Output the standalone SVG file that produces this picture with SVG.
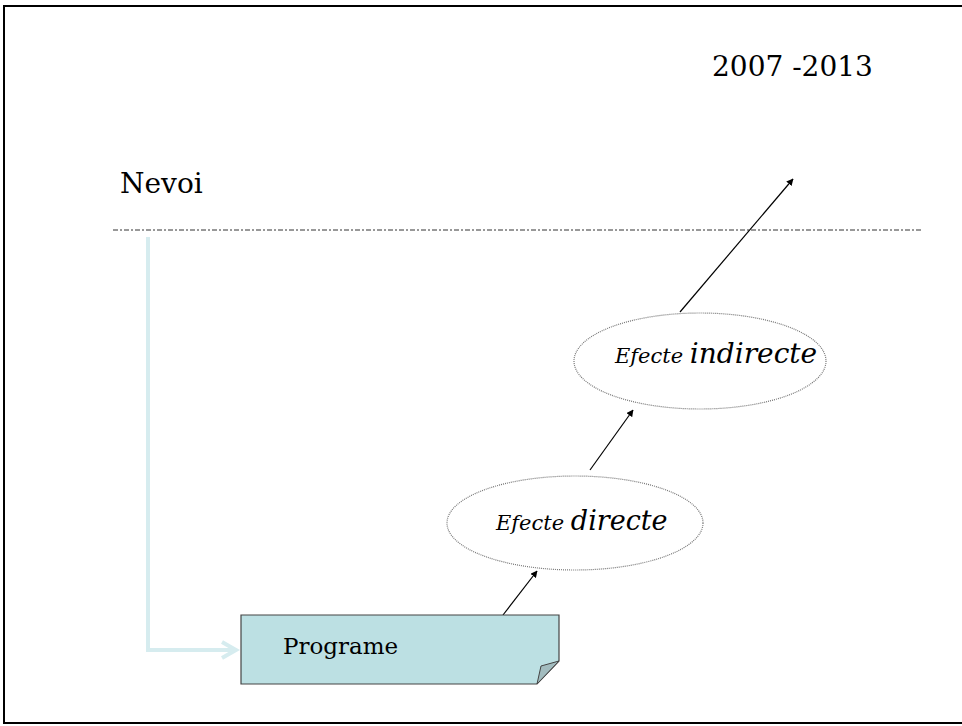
<svg xmlns="http://www.w3.org/2000/svg" width="962" height="726" viewBox="0 0 962 726">
<defs>
<style>
text{font-family:"DejaVu Serif","Liberation Serif",serif;fill:#000}
.ell{fill:#fff;stroke:#777;stroke-width:1.2;stroke-dasharray:1 1}
.arr{stroke:#000;stroke-width:1.2;fill:none;marker-end:url(#ah)}
</style>
<marker id="ah" viewBox="0 0 10 10" refX="9" refY="5" markerWidth="7" markerHeight="7" markerUnits="userSpaceOnUse" orient="auto">
<path d="M0,0 L10,5 L0,10 Z" fill="#000"/>
</marker>
<marker id="oh" viewBox="0 0 10 10" refX="8" refY="5" markerWidth="5" markerHeight="5" orient="auto">
<path d="M1,1 L8,5 L1,9" fill="none" stroke="#d6ecef" stroke-width="2"/>
</marker>
</defs>
<rect x="0" y="0" width="962" height="726" fill="#fff"/>
<rect x="4" y="6" width="962" height="717" fill="none" stroke="#000" stroke-width="2"/>
<text x="712" y="76" font-family="DejaVu Serif, serif" font-size="28">2007 -2013</text>
<text x="120" y="193" font-family="DejaVu Serif, serif" font-size="28">Nevoi</text>
<line x1="113" y1="230" x2="922" y2="230" stroke="#333" stroke-width="1" stroke-dasharray="5 2 2 2"/>
<g id="connectors">
<path d="M148,237 L148,650 L236,650" fill="none" stroke="#d6ecef" stroke-width="4" marker-end="url(#oh)"/>
<line class="arr" x1="503" y1="615" x2="537" y2="571"/>
<line class="arr" x1="590" y1="470" x2="633" y2="410"/>
<line class="arr" x1="680" y1="312" x2="793" y2="179"/>
</g>
<g id="programe">
<path d="M241,615 L559,615 L559,661 L537,684 L241,684 Z" fill="#bce0e3" stroke="#444" stroke-width="1.2"/>
<path d="M559,661 L541,666 L537,684 Z" fill="#a2bcbf" stroke="#444" stroke-width="1"/>
<text x="283" y="654" font-family="DejaVu Serif, serif" font-size="23">Programe</text>
</g>
<g id="efecte-directe">
<ellipse class="ell" cx="575" cy="523" rx="128" ry="47"/>
<text x="496" y="530" font-family="DejaVu Serif, serif" font-style="italic"><tspan font-size="21">Efecte </tspan><tspan font-size="27">directe</tspan></text>
</g>
<g id="efecte-indirecte">
<ellipse class="ell" cx="700" cy="361" rx="126" ry="48"/>
<text x="615" y="363" font-family="DejaVu Serif, serif" font-style="italic"><tspan font-size="21">Efecte </tspan><tspan font-size="28">indirecte</tspan></text>
</g>
</svg>
